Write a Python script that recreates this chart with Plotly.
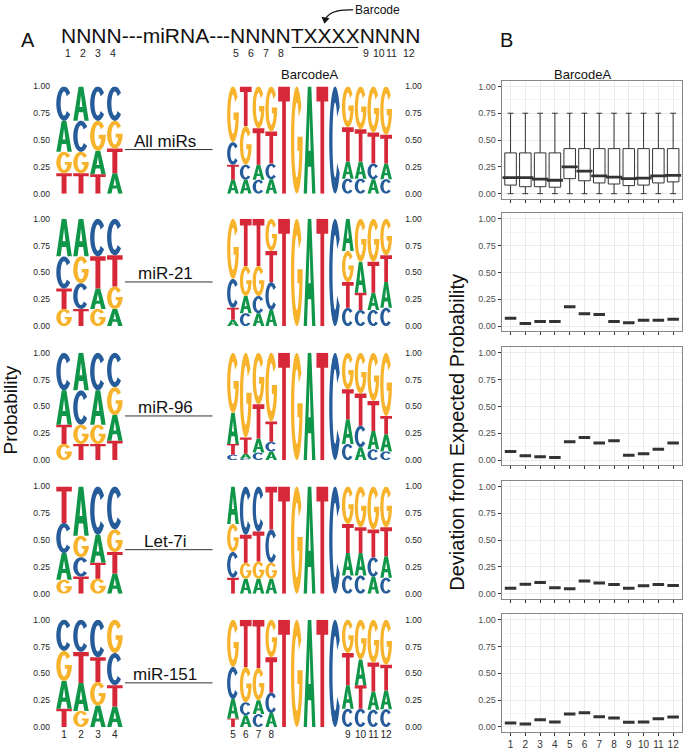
import numpy as np
import plotly.graph_objects as go

W, H = 685, 752
FONT = "Liberation Sans"

# ---------------- data ----------------
POSITIONS = list(range(1, 13))
BARCODE = ["T", "G", "A", "T", "C"]
ROW_NAMES = ["All miRs", "miR-21", "miR-96", "Let-7i", "miR-151"]
Y_TICKS = [0, 0.25, 0.5, 0.75, 1.0]
Y_TICKTEXT = ["0.00", "0.25", "0.50", "0.75", "1.00"]

# Panel A: letter probabilities per position 1..12
allmirs_A = [.29, .32, .22, .19, .13, .13, .14, .135, .16, .16, .135, .145]
allmirs_C = [.32, .29, .32, .32, .21, .14, .13, .145, .14, .14, .145, .135]
allmirs_G = [.20, .20, .28, .26, .52, .36, .39, .42, .38, .40, .43, .45]
allmirs_T = [.19, .19, .18, .23, .14, .37, .34, .30, .32, .30, .29, .27]

mir21_A = [.35, .35, .19, .16, .06, .16, .12, .15, .30, .29, .16, .24]
mir21_C = [.30, .24, .35, .34, .27, .12, .16, .26, .17, .15, .15, .17]
mir21_G = [.16, .25, .16, .21, .56, .28, .28, .30, .29, .40, .40, .34]
mir21_T = [.19, .16, .30, .29, .11, .44, .44, .29, .24, .16, .29, .25]

mir96_A = [.32, .35, .32, .24, .29, .045, .13, .08, .23, .12, .17, .16]
mir96_C = [.35, .32, .35, .32, .05, .015, .07, .09, .15, .20, .10, .08]
mir96_G = [.15, .18, .18, .26, .56, .79, .48, .64, .34, .38, .45, .59]
mir96_T = [.18, .15, .15, .18, .10, .15, .32, .19, .28, .30, .28, .17]

let7i_A = [.25, .46, .26, .19, .35, .14, .14, .14, .21, .21, .16, .20]
let7i_C = [.28, .18, .45, .40, .24, .45, .42, .31, .17, .17, .18, .15]
let7i_G = [.13, .20, .14, .21, .26, .15, .16, .15, .35, .38, .40, .38]
let7i_T = [.34, .16, .15, .20, .15, .26, .28, .40, .27, .24, .26, .27]

mir151_A = [.26, .26, .20, .19, .18, .11, .13, .13, .22, .24, .17, .175]
mir151_C = [.29, .30, .35, .30, .30, .12, .12, .19, .17, .17, .16, .165]
mir151_G = [.28, .15, .22, .31, .44, .33, .30, .35, .31, .37, .40, .42]
mir151_T = [.17, .29, .23, .20, .08, .44, .45, .33, .30, .22, .27, .24]

# Panel B: row 1 box statistics (All miRs)
box_q1 = [.08, .065, .065, .06, .14, .12, .10, .09, .075, .08, .10, .11]
box_median = [.15, .15, .135, .125, .25, .21, .165, .155, .14, .145, .165, .17]
box_q3 = [.38, .38, .38, .38, .42, .42, .42, .42, .42, .42, .42, .42]
box_low = [0.0, 0.0, 0.0, 0.0, 0.0, 0.0, 0.0, 0.0, 0.0, 0.0, 0.0, 0.0]
box_high = [.75, .75, .75, .75, .75, .75, .75, .75, .75, .75, .75, .75]

# Panel B: deviation for single miRNAs
dev_mir21 = [.073, .024, .043, .043, .18, .116, .107, .043, .03, .055, .055, .064]
dev_mir96 = [.08, .04, .03, .025, .17, .21, .16, .18, .045, .06, .10, .16]
dev_let7i = [.052, .089, .104, .055, .046, .12, .101, .086, .052, .074, .086, .077]
dev_mir151 = [.037, .028, .067, .046, .12, .132, .095, .083, .043, .046, .077, .092]

LOGO_ROWS = [
    {"A": allmirs_A, "C": allmirs_C, "G": allmirs_G, "T": allmirs_T},
    {"A": mir21_A, "C": mir21_C, "G": mir21_G, "T": mir21_T},
    {"A": mir96_A, "C": mir96_C, "G": mir96_G, "T": mir96_T},
    {"A": let7i_A, "C": let7i_C, "G": let7i_G, "T": let7i_T},
    {"A": mir151_A, "C": mir151_C, "G": mir151_G, "T": mir151_T},
]
DEV_ROWS = [dev_mir21, dev_mir96, dev_let7i, dev_mir151]

COLORS = {"A": "#109648", "C": "#255C99", "G": "#F7B32B", "T": "#D62839"}

# ---------------- geometry helpers ----------------
def px(x):
    return x / W


def py(y):
    return 1 - y / H


ROW_TOP = [82.5, 216.7, 352.5, 488.0, 623.0]
ROW_H = 108.7
LEFT_LOGO = (55.6, 123.3)
RIGHT_LOGO = (226.6, 392.5)
B_PANEL = (501.7, 682.0)

# ---------------- glyphs ----------------
TX, TY = 0.28, 0.15


def arc_pts(rx, ry, a0, a1, n=36):
    t = np.radians(np.linspace(a0, a1, n))
    return [(0.5 + rx * np.cos(a), 0.5 + ry * np.sin(a)) for a in t]


def glyph(letter):
    if letter == "T":
        return [[(0, 1), (1, 1), (1, 0.86), (0.66, 0.86), (0.66, 0),
                 (0.34, 0), (0.34, 0.86), (0, 0.86)]]
    if letter == "A":
        outer = [(0, 0), (0.35, 1), (0.65, 1), (1, 0), (0.72, 0),
                 (0.64, 0.25), (0.36, 0.25), (0.28, 0)]
        hole = [(0.41, 0.40), (0.59, 0.40), (0.5, 0.74)]
        return [outer, hole]
    if letter == "C":
        return [arc_pts(0.5, 0.5, 38, 322) + arc_pts(0.5 - TX, 0.5 - TY, 322, 38)]
    # G
    ri_x, ri_y = 0.5 - TX, 0.5 - TY
    yb = 0.40
    th = 360 + np.degrees(np.arcsin((yb - 0.5) / ri_y))
    pts = arc_pts(0.5, 0.5, 38, 360)
    pts += [(1.0, 0.53), (0.55, 0.53), (0.55, yb)]
    pts += arc_pts(ri_x, ri_y, th, 38)
    return [pts]


def letter_path(letter, x0, x1, y0, y1):
    parts = []
    for poly in glyph(letter):
        seg = " L ".join(f"{x0 + u * (x1 - x0):.4f},{y0 + v * (y1 - y0):.4f}" for u, v in poly)
        parts.append("M " + seg + " Z")
    return " ".join(parts)


shapes = []
annotations = []
traces = []
layout_axes = {}


def add_letter(letter, col, y0, y1, xa, ya):
    shapes.append(dict(type="path", xref=xa, yref=ya,
                       path=letter_path(letter, col - 0.46, col + 0.46, y0, y1),
                       fillcolor=COLORS[letter], line=dict(width=0),
                       fillrule="evenodd", layer="above"))


def add_stack(probs, pos_index, col, xa, ya):
    items = sorted(((probs[l][pos_index], l) for l in "ACGT"))
    base = 0.0
    for val, l in items:
        add_letter(l, col, base, base + val, xa, ya)
        base += val


def ax_name(kind, n):
    return kind if n == 1 else f"{kind}{n}"


RIGHT_TICKTEXT = ["5", "6", "7", "8", "", "", "", "", "", "9", "10", "11", "12"]

for r in range(5):
    top = ROW_TOP[r]
    bottom = top + ROW_H
    last = (r == 4)
    probs = LOGO_ROWS[r]

    # ---- left logo (positions 1-4)
    n = 3 * r + 1
    xa, ya = ax_name("x", n), ax_name("y", n)
    traces.append(go.Scatter(x=[], y=[], xaxis=xa, yaxis=ya, showlegend=False))
    layout_axes["xaxis" + ("" if n == 1 else str(n))] = dict(
        domain=[px(LEFT_LOGO[0]), px(LEFT_LOGO[1])], anchor=ya, range=[0.5, 4.5],
        showgrid=False, zeroline=False, showline=False, ticks="", tickangle=0,
        tickvals=[1, 2, 3, 4], ticktext=[str(p) for p in POSITIONS[:4]],
        showticklabels=last, tickfont=dict(size=10, color="#222", family=FONT))
    layout_axes["yaxis" + ("" if n == 1 else str(n))] = dict(
        domain=[py(bottom), py(top)], anchor=xa, range=[0, 1],
        showgrid=False, zeroline=False, showline=False,
        tickvals=Y_TICKS, ticktext=Y_TICKTEXT, ticks="outside", ticklen=3,
        tickcolor="rgba(0,0,0,0)", tickfont=dict(size=8.5, color="#222", family=FONT))
    for i in range(4):
        add_stack(probs, i, i + 1, xa, ya)

    # ---- right logo (positions 5-8, barcode, 9-12)
    n = 3 * r + 2
    xa, ya = ax_name("x", n), ax_name("y", n)
    traces.append(go.Scatter(x=[], y=[], xaxis=xa, yaxis=ya, showlegend=False))
    layout_axes["xaxis" + str(n)] = dict(
        domain=[px(RIGHT_LOGO[0]), px(RIGHT_LOGO[1])], anchor=ya, range=[0.5, 13.5],
        showgrid=False, zeroline=False, showline=False, ticks="", tickangle=0,
        tickvals=list(range(1, 14)), ticktext=RIGHT_TICKTEXT,
        showticklabels=last, tickfont=dict(size=10, color="#222", family=FONT))
    layout_axes["yaxis" + str(n)] = dict(
        domain=[py(bottom), py(top)], anchor=xa, range=[0, 1], side="right",
        showgrid=False, zeroline=False, showline=False,
        tickvals=Y_TICKS, ticktext=Y_TICKTEXT, ticks="outside", ticklen=10,
        tickcolor="rgba(0,0,0,0)", tickfont=dict(size=8.5, color="#222", family=FONT))
    for i in range(4):
        add_stack(probs, 4 + i, i + 1, xa, ya)
    for j, l in enumerate(BARCODE):
        add_letter(l, 5 + j, 0.0, 1.0, xa, ya)
    for i in range(4):
        add_stack(probs, 8 + i, 10 + i, xa, ya)

    # ---- label with leader line
    annotations.append(dict(x=px(165), y=py(top + 55.5), xref="paper", yref="paper",
                            text=ROW_NAMES[r], showarrow=False, xanchor="center",
                            yanchor="middle", font=dict(size=17, color="#111", family=FONT)))
    shapes.append(dict(type="line", xref="paper", yref="paper",
                       x0=px(125), x1=px(212.5), y0=py(top + 64), y1=py(top + 64),
                       line=dict(color="#333", width=1)))

    # ---- panel B
    n = 3 * r + 3
    xa, ya = ax_name("x", n), ax_name("y", n)
    pad = 0.05 * ROW_H
    layout_axes["xaxis" + str(n)] = dict(
        domain=[px(B_PANEL[0]), px(B_PANEL[1])], anchor=ya, range=[0.4, 12.6],
        tickvals=POSITIONS, ticktext=[str(p) for p in POSITIONS], tickangle=0,
        showticklabels=last, ticks="outside", ticklen=3, tickwidth=1, tickcolor="#333",
        showgrid=True, gridcolor="#ebebeb", gridwidth=1, zeroline=False,
        showline=True, mirror=True, linecolor="#888", linewidth=1,
        tickfont=dict(size=10, color="#333", family=FONT))
    layout_axes["yaxis" + str(n)] = dict(
        domain=[py(bottom + pad), py(top - pad)], anchor=xa, range=[-0.05, 1.05],
        tickvals=Y_TICKS, ticktext=Y_TICKTEXT, ticks="outside", ticklen=3, tickwidth=1,
        tickcolor="#333", showgrid=True, gridcolor="#ebebeb", gridwidth=1, zeroline=False,
        showline=True, mirror=True, linecolor="#888", linewidth=1,
        minor=dict(tickvals=[0.125, 0.375, 0.625, 0.875], showgrid=True,
                   gridcolor="#f4f4f4", gridwidth=0.6, ticks=""),
        tickfont=dict(size=9, color="#4d4d4d", family=FONT))
    if r == 0:
        traces.append(go.Box(x=POSITIONS, q1=box_q1, median=box_median, q3=box_q3,
                             lowerfence=box_low, upperfence=box_high, width=0.78,
                             fillcolor="white", line=dict(color="#333", width=1),
                             xaxis=xa, yaxis=ya, showlegend=False, hoverinfo="skip"))
        traces.append(go.Scatter(x=POSITIONS, y=box_median, mode="markers",
                                 marker=dict(symbol="line-ew", size=11.5,
                                             line=dict(color="#333", width=2.8)),
                                 xaxis=xa, yaxis=ya, showlegend=False, hoverinfo="skip"))
    else:
        vals = DEV_ROWS[r - 1]
        traces.append(go.Box(x=POSITIONS, q1=vals, median=vals, q3=vals,
                             lowerfence=vals, upperfence=vals, width=0.78,
                             fillcolor="#333", line=dict(color="#333", width=3),
                             xaxis=xa, yaxis=ya, showlegend=False, hoverinfo="skip"))

# ---------------- header & titles ----------------
def txt(x, y, s, size, color="#111", angle=0, xanchor="center"):
    annotations.append(dict(x=px(x), y=py(y), xref="paper", yref="paper", text=s,
                            showarrow=False, xanchor=xanchor, yanchor="middle",
                            textangle=angle, font=dict(size=size, color=color, family=FONT)))


txt(27.5, 35, "A", 20)
txt(506, 35.5, "B", 20)
txt(58.5, 31, "NNNN---miRNA---NNNNTXXXXNNNN", 21, xanchor="left")
HEADER_NUM_X = [67.5, 82.5, 97.5, 112.5, 236, 251, 266, 281, 365.5, 378.5, 392, 409]
for p, xx in zip(POSITIONS, HEADER_NUM_X):
    txt(xx, 48.5, str(p), 10.5, "#222")
shapes.append(dict(type="line", xref="paper", yref="paper", x0=px(291.7), x1=px(358),
                   y0=py(43), y1=py(43), line=dict(color="#111", width=1)))
txt(377.5, 5.5, "Barcode", 12)
shapes.append(dict(type="path", xref="paper", yref="paper",
                   path=f"M {px(353)},{py(5)} Q {px(331)},{py(4)} {px(326)},{py(13.5)}",
                   line=dict(color="#111", width=1.2)))
shapes.append(dict(type="path", xref="paper", yref="paper",
                   path=f"M {px(321.5)},{py(12)} L {px(329.5)},{py(13.5)} L {px(324.5)},{py(19)} Z",
                   fillcolor="#111", line=dict(width=0)))
txt(309, 70, "BarcodeA", 13)
txt(582.5, 70, "BarcodeA", 13)
txt(11, 411, "Probability", 19, angle=-90)
txt(457.5, 433, "Deviation from Expected Probability", 20, angle=-90)

fig = go.Figure(data=traces)
fig.update_layout(width=W, height=H, margin=dict(l=0, r=0, t=0, b=0),
                  paper_bgcolor="white", plot_bgcolor="white", showlegend=False,
                  shapes=shapes, annotations=annotations,
                  font=dict(family=FONT), **layout_axes)
fig.write_html("out.html", config={"displayModeBar": False},
               post_script="document.body.style.margin='0px';document.body.style.overflow='hidden';")
